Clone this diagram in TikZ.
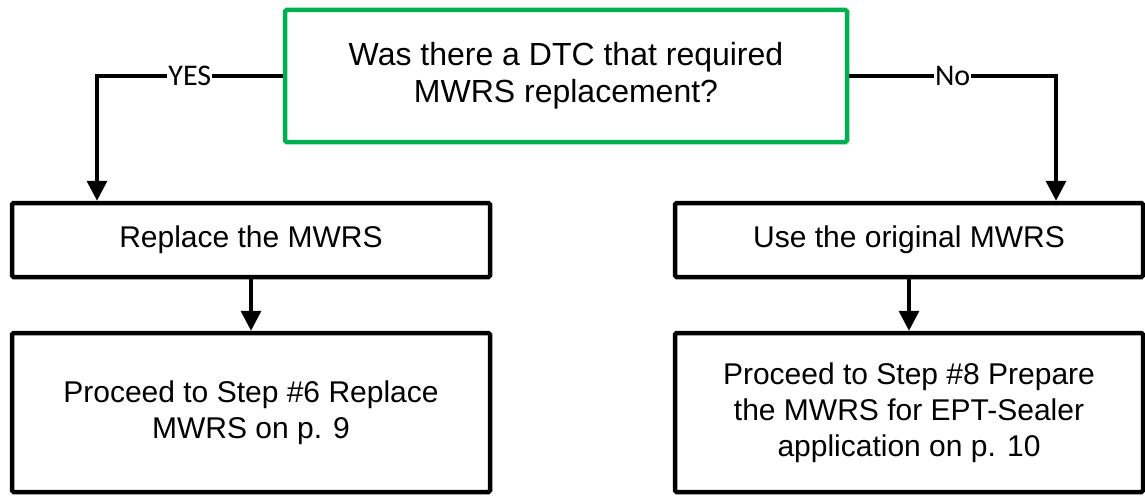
\documentclass[tikz,border=0pt]{standalone}
\usepackage{fontspec}
\setmainfont{Liberation Sans}
\newfontfamily\lblfont{Carlito}
\usetikzlibrary{arrows.meta}
\definecolor{boxgreen}{HTML}{00B050}
\begin{document}
\begin{tikzpicture}[x=1pt,y=-1pt,
  box/.style={draw=black,line width=4.5pt,rounded corners=1.5pt,inner sep=0pt,align=center,
    font=\fontsize{30}{36}\selectfont},
  conn/.style={line width=3.5pt,-{Triangle[width=20pt,length=20pt]}},
  lbl/.style={fill=white,inner sep=1pt,font=\lblfont\fontsize{30}{36}\selectfont}]
\useasboundingbox (0,0) rectangle (1145,495);
\node[box,draw=boxgreen,minimum width=562pt,minimum height=132pt,
  font=\fontsize{32}{37}\selectfont] (q) at (566,76)
  {Was there a DTC that required\\MWRS replacement?};
\node[box,minimum width=478pt,minimum height=74pt] (r) at (251,240) {Replace the MWRS};
\node[box,minimum width=468pt,minimum height=74pt] (u) at (909,240) {Use the original MWRS};
\node[box,minimum width=478pt,minimum height=159pt] (p6) at (251,412.5)
  {Proceed to Step \#6 Replace\\MWRS on p. 9};
\node[box,minimum width=468pt,minimum height=159pt] (p8) at (909,412.5)
  {Proceed to Step \#8 Prepare\\the MWRS for EPT-Sealer\\application on p. 10};
\coordinate (yc) at (97,76);
\coordinate (nc) at (1056,76);
\draw[conn] (q.west) -- node[lbl,pos=0.5]{YES} (yc) -- (yc |- r.north);
\draw[conn] (q.east) -- node[lbl,pos=0.5]{No} (nc) -- (nc |- u.north);
\draw[conn] (r.south) -- (p6.north);
\draw[conn] (u.south) -- (p8.north);
\end{tikzpicture}
\end{document}
